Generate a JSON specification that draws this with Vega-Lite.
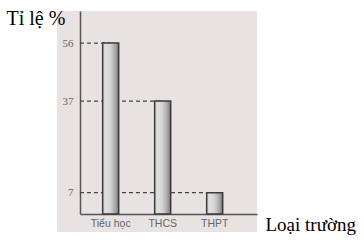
{
  "$schema": "https://vega.github.io/schema/vega-lite/v6.json",
  "width": 200,
  "height": 221,
  "autosize": "none",
  "padding": {"left": 57, "top": 11, "right": 107, "bottom": 10},
  "background": "white",
  "config": {"view": {"fill": "#e8e2e2", "stroke": null}},
  "data": {
    "values": [
      {"cap": "Tiểu học", "pct": 56},
      {"cap": "THCS", "pct": 37},
      {"cap": "THPT", "pct": 7}
    ]
  },
  "encoding": {
    "x": {
      "field": "cap",
      "type": "nominal",
      "scale": {
        "domain": ["Tiểu học", "THCS", "THPT"],
        "range": [23, 200],
        "paddingInner": 0.6923,
        "paddingOuter": 0.548,
        "align": 0.398
      },
      "axis": {
        "offset": -18,
        "ticks": false,
        "grid": false,
        "labelAngle": 0,
        "domainColor": "#555555",
        "domainWidth": 1.5,
        "labelFont": "Liberation Sans",
        "labelFontSize": 10.5,
        "labelColor": "#666666",
        "labelPadding": 4,
        "title": "Loại trường",
        "titleFont": "Liberation Serif",
        "titleFontSize": 19,
        "titleFontWeight": "normal",
        "titleColor": "#000000",
        "titleAlign": "left",
        "titleBaseline": "alphabetic",
        "titleX": 208,
        "titleY": 16
      }
    },
    "y": {
      "field": "pct",
      "type": "quantitative",
      "scale": {"domain": [0, 66.5], "range": [203, 0], "nice": false},
      "axis": {
        "values": [7, 37, 56],
        "offset": -23,
        "ticks": false,
        "grid": false,
        "domainColor": "#555555",
        "domainWidth": 1.5,
        "labelFont": "Liberation Serif",
        "labelFontSize": 11,
        "labelColor": "#666666",
        "labelPadding": 7,
        "title": "Tỉ lệ %",
        "titleAngle": 0,
        "titleFont": "Liberation Serif",
        "titleFontSize": 20,
        "titleFontWeight": "normal",
        "titleColor": "#000000",
        "titleAlign": "left",
        "titleBaseline": "alphabetic",
        "titleX": -74,
        "titleY": 13
      }
    }
  },
  "layer": [
    {
      "mark": {"type": "rule", "color": "#444444", "strokeWidth": 1.2, "strokeDash": [4, 3]},
      "encoding": {
        "x": {"datum": "Tiểu học", "type": "nominal", "bandPosition": -1.42},
        "x2": {"field": "cap"}
      }
    },
    {
      "mark": {
        "type": "bar",
        "stroke": "#3a3a3a",
        "strokeWidth": 1.5,
        "fill": {
          "gradient": "linear",
          "x1": 0, "y1": 0, "x2": 1, "y2": 0,
          "stops": [
            {"offset": 0, "color": "#cfcfcf"},
            {"offset": 0.2, "color": "#e0e0e0"},
            {"offset": 0.5, "color": "#d2d2d2"},
            {"offset": 0.8, "color": "#a5a5a5"},
            {"offset": 1, "color": "#767676"}
          ]
        }
      }
    }
  ]
}
